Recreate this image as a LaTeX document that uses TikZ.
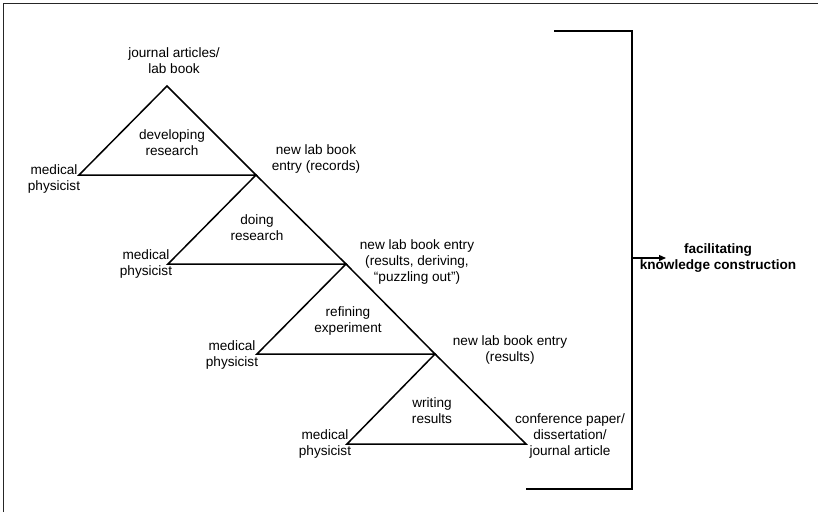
\documentclass[tikz,border=0pt]{standalone}
\usepackage{fontspec}
\setmainfont{Liberation Sans}
\usetikzlibrary{arrows.meta}
\begin{document}
\begin{tikzpicture}[x=1pt,y=-1pt,
  lbl/.style={align=center, inner sep=0pt, font=\fontsize{13.6}{16}\selectfont},
  blbl/.style={lbl, font=\fontsize{13.6}{16}\selectfont\bfseries},
  tri/.style={line width=1.5pt, line join=miter},
  brk/.style={line width=1.8pt},
  frame/.style={line width=1.8pt, black!85}]
\useasboundingbox (0,0) rectangle (818,512);
% frame (top and left only)
\coordinate (f1) at (3.5,512);
\coordinate (f2) at (3.5,3.5);
\coordinate (f3) at (818,3.5);
\draw[frame] (f1) -- (f2) -- (f3);
% triangle vertices
\coordinate (a1) at (167,86);
\coordinate (a2) at (256,175);
\coordinate (a3) at (346,264);
\coordinate (a4) at (435,354);
\coordinate (a5) at (526,444);
\coordinate (l1) at (79,175);
\coordinate (l2) at (168,264);
\coordinate (l3) at (257,354);
\coordinate (l4) at (347,444);
\draw[tri] (a1) -- (a2) -- (l1) -- cycle;
\draw[tri] (a2) -- (a3) -- (l2) -- cycle;
\draw[tri] (a3) -- (a4) -- (l3) -- cycle;
\draw[tri] (a4) -- (a5) -- (l4) -- cycle;
% bracket
\coordinate (b1) at (554,31);
\coordinate (b2) at (632,31);
\coordinate (b3) at (632,489);
\coordinate (b4) at (526,489);
\coordinate (bm) at (632,258);
\draw[brk] (b1) -- (b2) -- (b3) -- (b4);
% labels
\node[lbl] (top) at (174,61) {journal articles/\\lab book};
\node[lbl] (dev) at (172,143) {developing\\research};
\node[lbl] (mp1) at (54,179) {medical\\physicist};
\node[lbl] (rec) at (316,159) {new lab book\\entry (records)};
\node[lbl] (doing) at (257,228) {doing\\research};
\node[lbl] (mp2) at (146,264) {medical\\physicist};
\node[lbl] (rd) at (417,262) {new lab book entry\\(results, deriving,\\“puzzling out”)};
\node[lbl] (ref) at (348,321) {refining\\experiment};
\node[lbl] (mp3) at (232,355) {medical\\physicist};
\node[lbl] (res) at (510,350) {new lab book entry\\(results)};
\node[lbl] (wr) at (432,411) {writing\\results};
\node[lbl] (mp4) at (325,444) {medical\\physicist};
\node[lbl] (conf) at (570,436) {conference paper/\\dissertation/\\journal article};
\node[blbl] (fac) at (718,258) {facilitating\\knowledge construction};
\coordinate (ae) at (666,258);
\draw[line width=1.3pt, -{Triangle[length=7pt,width=6pt]}] (bm) -- (ae);
\end{tikzpicture}
\end{document}
